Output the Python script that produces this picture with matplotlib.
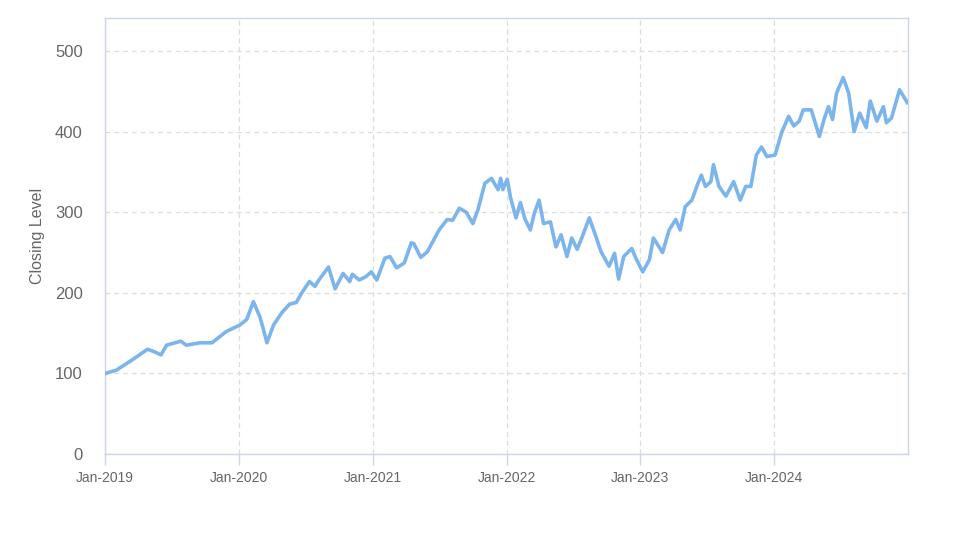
import matplotlib
matplotlib.use("Agg")
import matplotlib.pyplot as plt
import matplotlib.dates as mdates
import pandas as pd

dates = [
    "2019-01-02", "2019-02-01", "2019-03-17", "2019-04-27", "2019-05-15", "2019-06-03",
    "2019-06-18", "2019-07-27", "2019-08-11", "2019-09-17", "2019-10-20", "2019-11-28",
    "2020-01-04", "2020-01-23", "2020-02-10", "2020-02-28", "2020-03-10", "2020-03-18",
    "2020-04-05", "2020-04-27", "2020-05-19", "2020-06-06", "2020-06-24", "2020-07-12",
    "2020-07-27", "2020-08-07", "2020-09-02", "2020-09-20", "2020-10-12", "2020-10-30",
    "2020-11-06", "2020-11-25", "2020-12-13", "2020-12-28", "2021-01-12", "2021-02-03",
    "2021-02-17", "2021-03-07", "2021-03-28", "2021-04-16", "2021-04-23", "2021-05-12",
    "2021-05-30", "2021-07-01", "2021-07-23", "2021-08-07", "2021-08-25", "2021-09-13",
    "2021-10-01", "2021-10-15", "2021-11-03", "2021-11-21", "2021-12-09", "2021-12-16",
    "2021-12-22", "2022-01-03", "2022-01-12", "2022-01-27", "2022-02-08", "2022-02-20",
    "2022-03-07", "2022-03-18", "2022-03-31", "2022-04-12", "2022-05-01", "2022-05-16",
    "2022-05-30", "2022-06-15", "2022-06-28", "2022-07-13", "2022-07-27", "2022-08-15",
    "2022-09-02", "2022-09-16", "2022-10-08", "2022-10-23", "2022-11-03", "2022-11-17",
    "2022-12-09", "2022-12-20", "2023-01-08", "2023-01-26", "2023-02-06", "2023-03-03",
    "2023-03-21", "2023-04-08", "2023-04-20", "2023-05-04", "2023-05-22", "2023-06-06",
    "2023-06-17", "2023-06-28", "2023-07-13", "2023-07-20", "2023-08-04", "2023-08-23",
    "2023-09-13", "2023-10-01", "2023-10-16", "2023-10-30", "2023-11-14", "2023-11-28",
    "2023-12-13", "2024-01-04", "2024-01-23", "2024-02-10", "2024-02-24", "2024-03-10",
    "2024-03-21", "2024-04-12", "2024-05-04", "2024-05-18", "2024-05-29", "2024-06-09",
    "2024-06-20", "2024-07-08", "2024-07-23", "2024-08-07", "2024-08-22", "2024-09-09",
    "2024-09-20", "2024-10-08", "2024-10-26", "2024-11-03", "2024-11-17", "2024-12-09",
    "2024-12-30",
]
closing = [
    100, 104, 117, 130, 127, 123,
    135, 140, 135, 138, 138, 152,
    160, 167, 189, 170, 152, 138,
    160, 175, 186, 188, 202, 214,
    208, 216, 232, 205, 224, 214,
    223, 216, 220, 226, 216, 243,
    245, 231, 237, 262, 261, 244,
    251, 278, 291, 290, 305, 300,
    286, 303, 336, 342, 328, 342,
    328, 341, 318, 293, 312, 292,
    278, 299, 315, 286, 288, 257,
    272, 245, 268, 254, 270, 293,
    270, 251, 233, 249, 217, 245,
    255, 243, 226, 241, 268, 250,
    278, 291, 278, 307, 315, 334,
    346, 332, 338, 359, 332, 320,
    338, 315, 332, 332, 371, 381,
    369, 371, 400, 419, 407, 413,
    427, 427, 394, 417, 431, 415,
    448, 467, 448, 400, 423, 405,
    438, 413, 431, 411, 417, 452,
    436,
]
y_ticks = [0, 100, 200, 300, 400, 500]
x_tick_years = [2019, 2020, 2021, 2022, 2023, 2024]
y_title = "Closing Level"

plt.rcParams["font.family"] = ["Liberation Sans", "DejaVu Sans"]

fig = plt.figure(figsize=(9.73, 5.47), dpi=100)
ax = fig.add_axes([105 / 973, 1 - 454 / 547, (908 - 105) / 973, (454 - 18) / 547])

x = pd.to_datetime(dates)
ax.plot(x, closing, color="#7cb5ec", linewidth=2.6, solid_joinstyle="round", zorder=3)

ax.set_xlim(pd.Timestamp("2019-01-01"), pd.Timestamp("2025-01-01"))
ax.set_ylim(0, 541)
ax.set_yticks(y_ticks)
ax.set_xticks([pd.Timestamp(f"{y}-01-01") for y in x_tick_years])
ax.xaxis.set_major_formatter(mdates.DateFormatter("%b-%Y"))

ax.grid(True, color="#dddddd", linestyle=(0, (4, 3)), linewidth=0.9, zorder=0)

for side in ["left", "top", "right", "bottom"]:
    ax.spines[side].set_color("#ccd6eb")
    ax.spines[side].set_linewidth(1.0)

ax.tick_params(axis="y", length=0, pad=16, labelsize=12, labelcolor="#666666")
ax.tick_params(axis="x", length=8, width=1, color="#ccd6eb", pad=4, labelsize=10, labelcolor="#666666")

ax.set_ylabel(y_title, fontsize=11.5, color="#666666", labelpad=7)

fig.savefig("out.png", dpi=100)
